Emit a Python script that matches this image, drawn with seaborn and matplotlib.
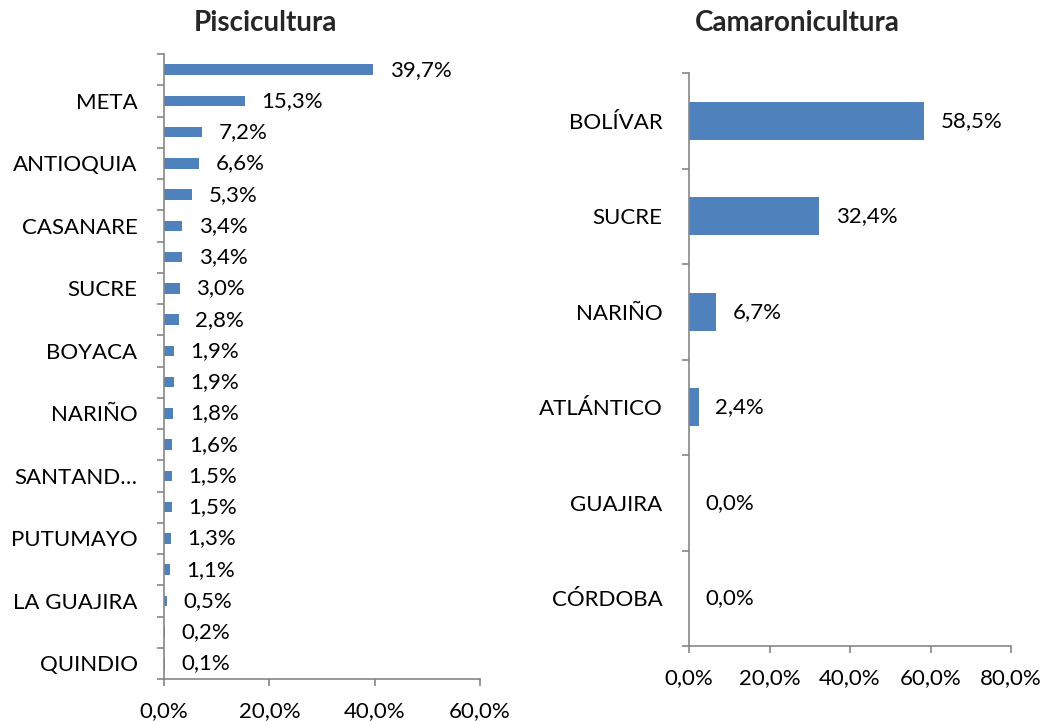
import matplotlib
matplotlib.use("Agg")
import matplotlib.pyplot as plt
import seaborn as sns
import pandas as pd
import numpy as np
from matplotlib.ticker import FixedLocator, FuncFormatter

sns.set_style("white")
plt.rcParams['font.family'] = ['Lato', 'DejaVu Sans']

# ---- data ----
pisci_depts = ["HUILA", "META", "TOLIMA", "ANTIOQUIA", "VALLE", "CASANARE",
               "CUNDINAMARCA", "SUCRE", "CÓRDOBA", "BOYACA", "CAUCA", "NARIÑO",
               "CALDAS", "SANTAND…", "RISARALDA", "PUTUMAYO", "CAQUETÁ",
               "LA GUAJIRA", "CESAR", "QUINDIO"]
pisci_shown = [False, True] * 10
pisci_vals = [39.7, 15.3, 7.2, 6.6, 5.3, 3.4, 3.4, 3.0, 2.8, 1.9,
              1.9, 1.8, 1.6, 1.5, 1.5, 1.3, 1.1, 0.5, 0.2, 0.1]

camar_depts = ["BOLÍVAR", "SUCRE", "NARIÑO", "ATLÁNTICO", "GUAJIRA", "CÓRDOBA"]
camar_vals = [58.5, 32.4, 6.7, 2.4, 0.0, 0.0]

pisci_xticks = [0, 20, 40, 60]
camar_xticks = [0, 20, 40, 60, 80]

BAR = "#4F81BD"
SPINE = "#868686"
FS = 16

fig = plt.figure(figsize=(10.43, 7.21), dpi=100)
W, H = 1043, 721

def px_axes(x0, x1, ytop, ybot):
    return fig.add_axes([x0 / W, 1 - ybot / H, (x1 - x0) / W, (ybot - ytop) / H])

ax1 = px_axes(164, 480, 54, 679)
ax2 = px_axes(689, 1011, 73, 646)

def pct(v, pos=None):
    return f"{v:.1f}".replace(".", ",") + "%"

def style(ax, df, xticks, width, labels_shown, xpad):
    sns.barplot(data=df, x="val", y="cat", orient="h", color=BAR, width=width,
                ax=ax, saturation=1, edgecolor="none")
    n = len(df)
    ax.set_xlim(xticks[0], xticks[-1])
    ax.set_ylim(n - 0.5, -0.5)
    ax.set_xticks(xticks)
    ax.xaxis.set_major_formatter(FuncFormatter(pct))
    ax.set_yticks(range(n))
    ax.set_yticklabels([c if s else "" for c, s in zip(df["cat"], labels_shown)])
    ax.yaxis.set_minor_locator(FixedLocator(np.arange(-0.5, n, 1.0)))
    ax.tick_params(axis="y", which="major", length=0, pad=19, labelsize=FS,
                   labelcolor="black")
    ax.tick_params(axis="y", which="minor", length=5, width=1.2, color=SPINE,
                   direction="out", left=True)
    ax.tick_params(axis="x", which="major", length=5, width=1.2, color=SPINE,
                   direction="out", bottom=True, pad=xpad, labelsize=FS,
                   labelcolor="black")
    ax.set_xlabel("")
    ax.set_ylabel("")
    for s in ["top", "right"]:
        ax.spines[s].set_visible(False)
    for s in ["left", "bottom"]:
        ax.spines[s].set_color(SPINE)
        ax.spines[s].set_linewidth(1.2)
    for i, v in enumerate(df["val"]):
        ax.annotate(pct(v), xy=(v, i), xytext=(12, 0), textcoords="offset points",
                    va="center", ha="left", fontsize=FS, color="black")

df1 = pd.DataFrame({"cat": pisci_depts, "val": pisci_vals})
df2 = pd.DataFrame({"cat": camar_depts, "val": camar_vals})
style(ax1, df1, pisci_xticks, 0.33, pisci_shown, 11)
style(ax2, df2, camar_xticks, 0.40, [True] * len(camar_depts), 11)

fig.text(265 / W, 1 - 23 / H, "Piscicultura", ha="center", va="center",
         fontsize=20, fontweight="bold")
fig.text(797 / W, 1 - 23 / H, "Camaronicultura", ha="center", va="center",
         fontsize=20, fontweight="bold")

fig.savefig("out.png", dpi=100, facecolor="white")
